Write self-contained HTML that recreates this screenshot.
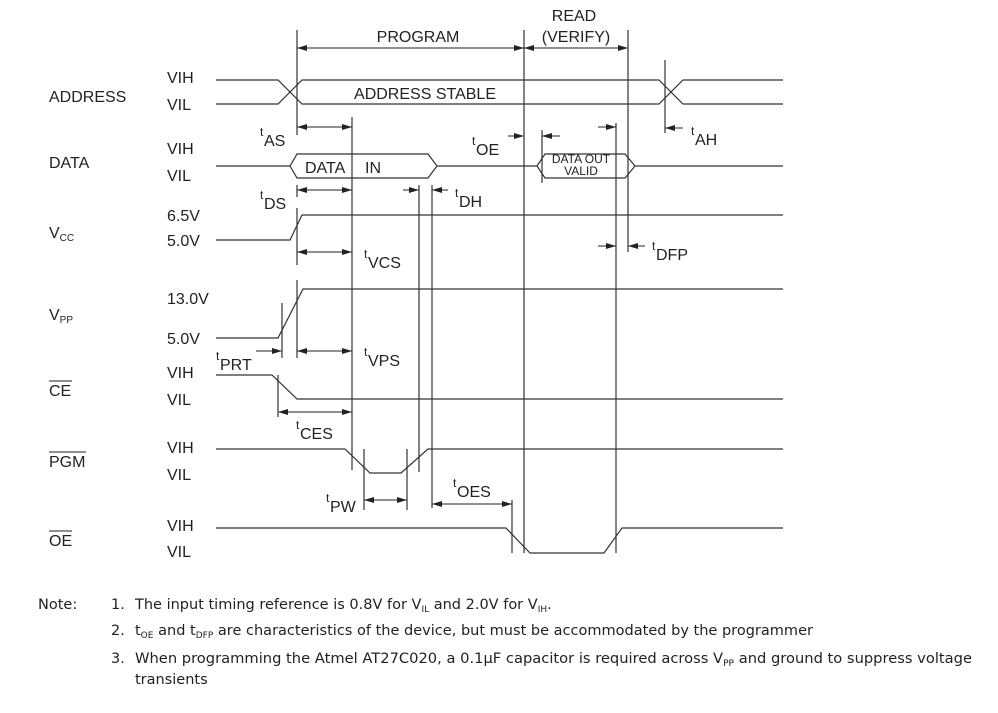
<!DOCTYPE html>
<html><head><meta charset="utf-8"><style>
html,body{margin:0;padding:0;background:#fff;}
svg{display:block;font-family:"Liberation Sans",Arial,sans-serif;}
</style></head><body>
<svg width="998" height="713" viewBox="0 0 998 713" xmlns="http://www.w3.org/2000/svg">
<defs>
<marker id="a" viewBox="0 0 10 6" refX="10" refY="3" markerWidth="10" markerHeight="6" markerUnits="userSpaceOnUse" orient="auto-start-reverse"><path d="M0,0 L10,3 L0,6 z" fill="#222"/></marker>
</defs>
<g fill="none" stroke="#333" stroke-width="1.2">
<path d="M297,30 V135 M297,185 V197 M297,208 V265 M297,280 V358"/>
<path d="M352,117 V470"/>
<path d="M419,185 V472"/>
<path d="M432,185 V508"/>
<path d="M524,30 V553"/>
<path d="M616,123 V553"/>
<path d="M628,30 V252"/>
<path d="M542,130 V183"/>
<path d="M665,60 V133"/>
<path d="M282,303 V358"/>
<path d="M278,375 V417"/>
<path d="M364,449 V510 M407,449 V510"/>
<path d="M512,500 V553"/>
<path d="M216,80 H278 L302,104 H659 L683,80 H783"/>
<path d="M216,104 H278 L302,80 H659 L683,104 H783"/>
<path d="M216,166 H290 L297,154 H428 L437,166 L428,178 H297 L290,166"/>
<path d="M437,166 H537 L545,154 H625 L635,166 L625,178 H545 L537,166 M635,166 H783"/>
<path d="M216,240 H290 L302,215 H783"/>
<path d="M216,338 H278 L303,289 H783"/>
<path d="M216,375 H272 L297,399 H783"/>
<path d="M216,449 H345 L370,473 H401 L428,449 H783"/>
<path d="M216,528 H506 L530,553 H604 L622,528 H783"/>
</g>
<g stroke="#222" stroke-width="1" fill="none">
<path d="M297,48 H524" marker-start="url(#a)" marker-end="url(#a)"/>
<path d="M524,48 H628" marker-start="url(#a)" marker-end="url(#a)"/>
<path d="M297,127 H352" marker-start="url(#a)" marker-end="url(#a)"/>
<path d="M297,190 H352" marker-start="url(#a)" marker-end="url(#a)"/>
<path d="M297,252 H352" marker-start="url(#a)" marker-end="url(#a)"/>
<path d="M297,351 H352" marker-start="url(#a)" marker-end="url(#a)"/>
<path d="M278,412 H352" marker-start="url(#a)" marker-end="url(#a)"/>
<path d="M364,500 H407" marker-start="url(#a)" marker-end="url(#a)"/>
<path d="M432,504 H512" marker-start="url(#a)" marker-end="url(#a)"/>
<path d="M403,190 H419" marker-end="url(#a)"/>
<path d="M448,190 H432" marker-end="url(#a)"/>
<path d="M508,136 H524" marker-end="url(#a)"/>
<path d="M560,136 H542" marker-end="url(#a)"/>
<path d="M598,127 H616" marker-end="url(#a)"/>
<path d="M683,128 H665" marker-end="url(#a)"/>
<path d="M598,246 H616" marker-end="url(#a)"/>
<path d="M645,246 H628" marker-end="url(#a)"/>
<path d="M256,351 H282" marker-end="url(#a)"/>
</g>
<g fill="#222" font-size="16" font-family="Liberation Sans, Arial, sans-serif">
<text x="418" y="42" text-anchor="middle">PROGRAM</text>
<text x="574" y="21" text-anchor="middle">READ</text>
<text x="576" y="42" text-anchor="middle">(VERIFY)</text>
<text x="425" y="99" text-anchor="middle">ADDRESS STABLE</text>
<text x="305" y="173">DATA</text>
<text x="365" y="173">IN</text>
<text x="581" y="163" text-anchor="middle" font-size="12">DATA OUT</text>
<text x="581" y="175" text-anchor="middle" font-size="12">VALID</text>
<text x="49" y="102">ADDRESS</text>
<text x="49" y="168">DATA</text>
<text x="49" y="238">V<tspan font-size="10" dy="3">CC</tspan></text>
<text x="49" y="320">V<tspan font-size="10" dy="3">PP</tspan></text>
<text x="49" y="396">CE</text>
<text x="49" y="467">PGM</text>
<text x="49" y="546">OE</text>
<text x="167" y="83">VIH</text><text x="167" y="110">VIL</text>
<text x="167" y="154">VIH</text><text x="167" y="181">VIL</text>
<text x="167" y="221">6.5V</text><text x="167" y="246">5.0V</text>
<text x="167" y="304">13.0V</text><text x="167" y="344">5.0V</text>
<text x="167" y="378">VIH</text><text x="167" y="405">VIL</text>
<text x="167" y="453">VIH</text><text x="167" y="480">VIL</text>
<text x="167" y="531">VIH</text><text x="167" y="557">VIL</text>
<text x="260" y="136" font-size="12">t</text><text x="264" y="146">AS</text>
<text x="260" y="199" font-size="12">t</text><text x="264" y="209">DS</text>
<text x="472" y="145" font-size="12">t</text><text x="476" y="155">OE</text>
<text x="455" y="197" font-size="12">t</text><text x="459" y="207">DH</text>
<text x="364" y="258" font-size="12">t</text><text x="368" y="268">VCS</text>
<text x="691" y="135" font-size="12">t</text><text x="695" y="145">AH</text>
<text x="652" y="250" font-size="12">t</text><text x="656" y="260">DFP</text>
<text x="216" y="360" font-size="12">t</text><text x="220" y="370">PRT</text>
<text x="364" y="356" font-size="12">t</text><text x="368" y="366">VPS</text>
<text x="296" y="429" font-size="12">t</text><text x="300" y="439">CES</text>
<text x="326" y="502" font-size="12">t</text><text x="330" y="512">PW</text>
<text x="453" y="487" font-size="12">t</text><text x="457" y="497">OES</text>
</g>
<g stroke="#222" stroke-width="1">
<path d="M49,381 H72 M49,452 H86 M49,531 H72"/>
</g>
<g fill="#222" font-size="14.5" font-family="DejaVu Sans, Liberation Sans, sans-serif">
<text x="38" y="609">Note:</text>
<text x="111" y="609">1.</text>
<text x="111" y="635">2.</text>
<text x="111" y="663">3.</text>
<text x="135" y="609">The input timing reference is 0.8V for V<tspan font-size="9" dy="3">IL</tspan><tspan dy="-3"> and 2.0V for V</tspan><tspan font-size="9" dy="3">IH</tspan><tspan dy="-3">.</tspan></text>
<text x="135" y="635" textLength="678" lengthAdjust="spacingAndGlyphs">t<tspan font-size="9" dy="3">OE</tspan><tspan dy="-3"> and t</tspan><tspan font-size="9" dy="3">DFP</tspan><tspan dy="-3"> are characteristics of the device, but must be accommodated by the programmer</tspan></text>
<text x="135" y="663" textLength="837" lengthAdjust="spacingAndGlyphs">When programming the Atmel AT27C020, a 0.1µF capacitor is required across V<tspan font-size="9" dy="3">PP</tspan><tspan dy="-3"> and ground to suppress voltage</tspan></text>
<text x="135" y="684">transients</text>
</g>
</svg>
</body></html>
